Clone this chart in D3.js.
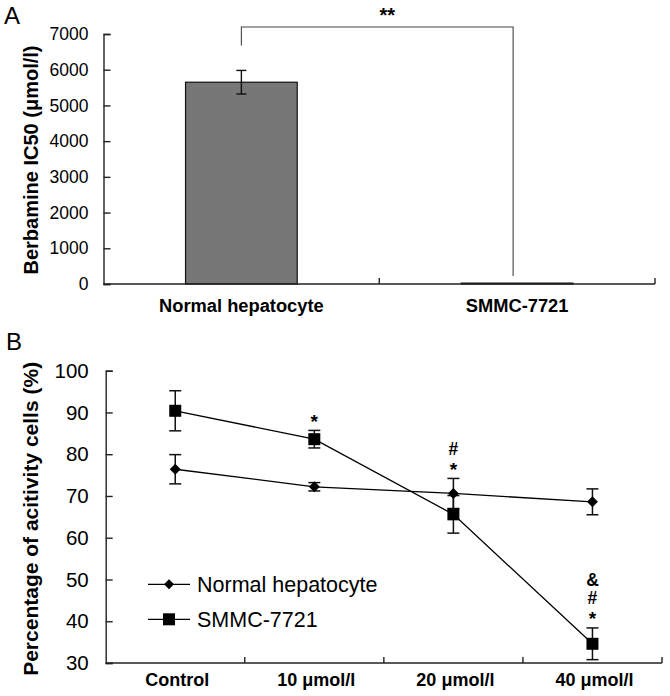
<!DOCTYPE html>
<html>
<head>
<meta charset="utf-8">
<script src="https://cdn.jsdelivr.net/npm/d3@7"></script>
<style>
  html, body { margin: 0; padding: 0; background: #fff; }
  svg { display: block; font-family: "Liberation Sans", Arial, sans-serif; }
</style>
</head>
<body>
<svg id="chart" width="670" height="696"></svg>
<script>
// ---------- Panel A data ----------
const barCategories = ["Normal hepatocyte", "SMMC-7721"];
const barValues = [5650, 25];
const barErrors = [330, 0];
const barTicks = [0, 1000, 2000, 3000, 4000, 5000, 6000, 7000];
const barSignificance = "**";

// ---------- Panel B data ----------
const doseLabels = ["Control", "10 μmol/l", "20 μmol/l", "40 μmol/l"];
const normalValues = [76.4, 72.2, 70.6, 68.6];
const normalErrors = [3.5, 1.0, 3.6, 3.1];
const smmcValues = [90.4, 83.6, 65.6, 34.6];
const smmcErrors = [4.8, 2.1, 4.5, 3.8];
const lineTicks = [30, 40, 50, 60, 70, 80, 90, 100];
const sigMarks = [[], ["*"], ["#", "*"], ["&", "#", "*"]];
const seriesNames = ["Normal hepatocyte", "SMMC-7721"];

const svg = d3.select("#chart");
const axisColor = "#222";

// ================= Panel A =================
const gA = svg.append("g");
const xA = d3.scaleBand().domain(barCategories).range([103.5, 655]);
const yA = d3.scaleLinear().domain([0, 7000]).range([284, 34]);

gA.append("text").attr("x", 4).attr("y", 24).attr("font-size", 24).text("A");

// y axis
const yAxisA = d3.axisLeft(yA).tickValues(barTicks).tickSize(-7).tickPadding(15).tickFormat(d3.format("d"));
const ya = gA.append("g").attr("transform", `translate(${xA.range()[0]},0)`).call(yAxisA);
ya.select(".domain").attr("stroke", axisColor).attr("stroke-width", 1.4);
ya.selectAll(".tick line").attr("stroke", axisColor).attr("stroke-width", 1.4);
ya.selectAll(".tick text").attr("font-size", 17.5).attr("fill", "#000").attr("font-family", "Liberation Sans, Arial");

// bars
const barW = xA.bandwidth() * 0.405;
gA.selectAll("rect.bar").data(barCategories).enter().append("rect")
  .attr("x", d => xA(d) + xA.bandwidth() / 2 - barW / 2)
  .attr("y", (d, i) => yA(barValues[i]))
  .attr("width", barW)
  .attr("height", (d, i) => yA(0) - yA(barValues[i]))
  .attr("fill", "#777777").attr("stroke", "#111").attr("stroke-width", 1.2);

// error bars
barCategories.forEach((c, i) => {
  if (!barErrors[i]) return;
  const cx = xA(c) + xA.bandwidth() / 2;
  const t = yA(barValues[i] + barErrors[i]), b = yA(barValues[i] - barErrors[i]);
  gA.append("line").attr("x1", cx).attr("x2", cx).attr("y1", t).attr("y2", b).attr("stroke", "#111").attr("stroke-width", 1.4);
  [t, b].forEach(yy => gA.append("line").attr("x1", cx - 5).attr("x2", cx + 5).attr("y1", yy).attr("y2", yy).attr("stroke", "#111").attr("stroke-width", 1.4));
});

// x axis
gA.append("line").attr("x1", xA.range()[0]).attr("x2", xA.range()[1]).attr("y1", yA(0)).attr("y2", yA(0))
  .attr("stroke", axisColor).attr("stroke-width", 1.4);
barCategories.forEach(c => {
  const xx = xA(c) + xA.bandwidth();
  gA.append("line").attr("x1", xx).attr("x2", xx).attr("y1", yA(0)).attr("y2", yA(0) - 6).attr("stroke", axisColor).attr("stroke-width", 1.4);
});
gA.selectAll("text.cat").data(barCategories).enter().append("text")
  .attr("x", d => xA(d) + xA.bandwidth() / 2).attr("y", 312)
  .attr("text-anchor", "middle").attr("font-size", 18.3).attr("font-weight", "bold").text(d => d);

// y title
gA.append("text").attr("transform", `translate(37.5,${(yA(0) + yA(7000)) / 2 + 1}) rotate(-90)`)
  .attr("text-anchor", "middle").attr("font-size", 20).attr("font-weight", "bold")
  .text("Berbamine IC50 (μmol/l)");

// significance bracket
const bx1 = xA(barCategories[0]) + xA.bandwidth() / 2;
const bx2 = xA(barCategories[1]) + xA.bandwidth() / 2 - 4;
const bTop = yA(7000) - 7;
gA.append("path")
  .attr("d", `M${bx1},${yA(barValues[0] + barErrors[0]) - 25}V${bTop}H${bx2}V${yA(0) - 8}`)
  .attr("fill", "none").attr("stroke", "#444").attr("stroke-width", 1.1);
gA.append("text").attr("x", (bx1 + bx2) / 2 + 10).attr("y", 22).attr("text-anchor", "middle")
  .attr("font-size", 20).attr("font-weight", "bold").text(barSignificance);

// ================= Panel B =================
const gB = svg.append("g");
const xB = d3.scaleBand().domain(doseLabels).range([105.7, 662]);
const yB = d3.scaleLinear().domain([30, 100]).range([663, 370.7]);
const cxB = d => xB(d) + xB.bandwidth() / 2;

gB.append("text").attr("x", 6).attr("y", 350).attr("font-size", 24).text("B");

const yAxisB = d3.axisLeft(yB).tickValues(lineTicks).tickSize(-7).tickPadding(17).tickFormat(d3.format("d"));
const yb = gB.append("g").attr("transform", `translate(${xB.range()[0]},0)`).call(yAxisB);
yb.select(".domain").attr("stroke", axisColor).attr("stroke-width", 1.4);
yb.selectAll(".tick line").attr("stroke", axisColor).attr("stroke-width", 1.4);
yb.selectAll(".tick text").attr("font-size", 20.5).attr("fill", "#000").attr("font-family", "Liberation Sans, Arial");

gB.append("line").attr("x1", xB.range()[0]).attr("x2", xB.range()[1]).attr("y1", yB(30)).attr("y2", yB(30))
  .attr("stroke", axisColor).attr("stroke-width", 1.4);
doseLabels.forEach(c => {
  const xx = xB(c) + xB.bandwidth();
  gB.append("line").attr("x1", xx).attr("x2", xx).attr("y1", yB(30)).attr("y2", yB(30) - 6).attr("stroke", axisColor).attr("stroke-width", 1.4);
});
gB.selectAll("text.cat").data(doseLabels).enter().append("text")
  .attr("x", d => cxB(d) + 2).attr("y", 686)
  .attr("text-anchor", "middle").attr("font-size", 18).attr("font-weight", "bold").text(d => d);

gB.append("text").attr("transform", `translate(37.5,${(yB(30) + yB(100)) / 2 + 2}) rotate(-90)`)
  .attr("text-anchor", "middle").attr("font-size", 21).attr("font-weight", "bold")
  .text("Percentage of acitivity cells (%)");

const lineGen = d3.line().x((d, i) => cxB(doseLabels[i])).y(d => yB(d));
const series = [
  { vals: normalValues, errs: normalErrors, shape: "diamond" },
  { vals: smmcValues, errs: smmcErrors, shape: "square" }
];

function drawMarker(g, shape, x, y, s) {
  if (shape === "square") {
    g.append("rect").attr("x", x - s / 2).attr("y", y - s / 2).attr("width", s).attr("height", s).attr("fill", "#000");
  } else {
    g.append("path").attr("d", `M${x},${y - s / 2}L${x + s / 2},${y}L${x},${y + s / 2}L${x - s / 2},${y}Z`).attr("fill", "#000");
  }
}

series.forEach(s => {
  gB.append("path").datum(s.vals).attr("d", lineGen).attr("fill", "none").attr("stroke", "#000").attr("stroke-width", 1.3);
  s.vals.forEach((v, i) => {
    const x = cxB(doseLabels[i]);
    const t = yB(v + s.errs[i]), b = yB(v - s.errs[i]);
    gB.append("line").attr("x1", x).attr("x2", x).attr("y1", t).attr("y2", b).attr("stroke", "#111").attr("stroke-width", 1.5);
    [t, b].forEach(yy => gB.append("line").attr("x1", x - 6).attr("x2", x + 6).attr("y1", yy).attr("y2", yy).attr("stroke", "#111").attr("stroke-width", 1.5));
  });
});
series.forEach(s => {
  s.vals.forEach((v, i) => drawMarker(gB, s.shape, cxB(doseLabels[i]), yB(v), s.shape === "square" ? 12 : 11));
});

// significance marks
sigMarks.forEach((marks, i) => {
  if (!marks.length) return;
  const sTop = smmcValues[i] + smmcErrors[i];
  const nLo = normalValues[i] - normalErrors[i], nHi = normalValues[i] + normalErrors[i];
  const anchor = (sTop >= nLo && sTop <= nHi) ? nHi : sTop;
  const base = yB(anchor) - 5.5;
  const x = cxB(doseLabels[i]);
  marks.slice().reverse().forEach((m, k) => {
    const t = gB.append("text").attr("x", x).attr("y", base - k * 18.3).attr("text-anchor", "middle")
      .attr("font-size", m === "*" ? 19 : 17.5).attr("font-weight", "bold").text(m);
    if (m === "*") t.attr("y", base + 3);
  });
});

// legend
const legY = [584.3, 619.3];
series.forEach((s, i) => {
  gB.append("line").attr("x1", 148).attr("x2", 190).attr("y1", legY[i]).attr("y2", legY[i]).attr("stroke", "#000").attr("stroke-width", 1.3);
  drawMarker(gB, s.shape, 169, legY[i], s.shape === "square" ? 12 : 10);
  gB.append("text").attr("x", 197).attr("y", legY[i] + 7.6).attr("font-size", 21.5).text(seriesNames[i]);
});
</script>
</body>
</html>
